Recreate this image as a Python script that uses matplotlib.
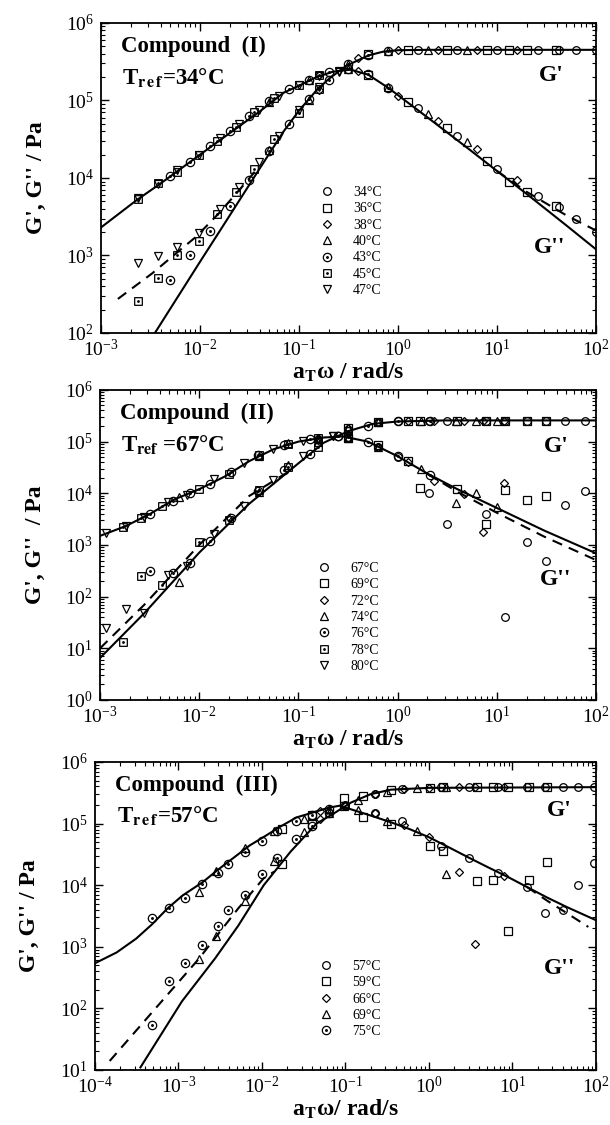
import numpy as np
import matplotlib
matplotlib.use("Agg")
import matplotlib.pyplot as plt
from matplotlib.path import Path
from matplotlib.lines import Line2D
from matplotlib.ticker import LogLocator, NullFormatter

plt.rcParams['font.family'] = ['Liberation Serif', 'DejaVu Serif']
plt.rcParams['mathtext.fontset'] = 'stix'

# ---------------- Compound (I), Tref = 34 C ----------------
c1_temps = ['34°C', '36°C', '38°C', '40°C', '43°C', '45°C', '47°C']
c1_w34 = [1.58, 3.98, 10, 25.7, 42.7, 63.1, 100]
c1_gp34 = [4.5e5, 4.5e5, 4.5e5, 4.5e5, 4.5e5, 4.5e5, 4.5e5]
c1_gpp34 = [7.9e4, 3.5e4, 1.3e4, 5.9e3, 4.2e3, 3.0e3, 2.0e3]
c1_w36 = [0.5, 1.26, 3.16, 7.9, 13.2, 20, 39.8]
c1_gp36 = [4.0e5, 4.5e5, 4.5e5, 4.5e5, 4.5e5, 4.5e5, 4.5e5]
c1_gpp36 = [2.1e5, 9.5e4, 4.4e4, 1.65e4, 8.9e3, 6.6e3, 4.4e3]
c1_w38 = [0.158, 0.398, 1.0, 2.51, 6.31, 15.8]
c1_gp38 = [1.35e5, 3.5e5, 4.45e5, 4.5e5, 4.5e5, 4.5e5]
c1_gpp38 = [2.1e5, 2.4e5, 1.15e5, 5.4e4, 2.4e4, 9.3e3]
c1_w40 = [0.05, 0.126, 0.316, 0.79, 2.0, 5.0]
c1_gp40 = [2.3e4, 1.0e5, 2.95e5, 4.4e5, 4.5e5, 4.5e5]
c1_gpp40 = [9.5e4, 1.85e5, 2.55e5, 1.5e5, 6.6e4, 2.9e4]
c1_w43 = [5.0e-3, 7.9e-3, 1.26e-2, 2.0e-2, 3.16e-2, 5.0e-2, 7.9e-2, 0.126, 0.2, 0.316, 0.5, 0.79]
c1_gp43 = [4.9e2, 1.0e3, 2.1e3, 4.4e3, 9.5e3, 2.2e4, 5.0e4, 1.05e5, 1.85e5, 2.95e5, 3.9e5, 4.4e5]
c1_gpp43 = [1.05e4, 1.6e4, 2.6e4, 4.0e4, 6.3e4, 9.8e4, 1.4e5, 1.85e5, 2.3e5, 2.55e5, 2.2e5, 1.45e5]
c1_w45 = [2.34e-3, 3.8e-3, 5.9e-3, 9.8e-3, 1.48e-2, 2.29e-2, 3.55e-2, 5.6e-2, 0.1, 0.158]
c1_gp45 = [2.6e2, 5.1e2, 1.0e3, 1.55e3, 3.4e3, 6.5e3, 1.3e4, 3.2e4, 6.9e4, 1.4e5]
c1_gpp45 = [5.4e3, 8.5e3, 1.2e4, 2.0e4, 3.0e4, 4.6e4, 7.1e4, 1.07e5, 1.6e5, 2.1e5]
c1_w47 = [2.34e-3, 3.8e-3, 5.9e-3, 9.8e-3, 1.58e-2, 2.5e-2, 3.98e-2, 6.3e-2, 0.1, 0.158, 0.251]
c1_gp47 = [8.1e2, 9.8e2, 1.3e3, 1.95e3, 4.0e3, 7.6e3, 1.6e4, 3.5e4, 7.6e4, 1.5e5, 2.4e5]
c1_gpp47 = [5.5e3, 8.3e3, 1.25e4, 2.0e4, 3.3e4, 5.0e4, 7.6e4, 1.15e5, 1.6e5, 2.05e5, 2.35e5]

c1_gpp_x = [1e-3, 2.3e-3, 4e-3, 1e-2, 2e-2, 4e-2, 7e-2, 0.1, 0.15, 0.22, 0.33, 0.5, 0.8, 1, 2, 5, 10, 20, 50, 100]
c1_gpp_fit = [2.3e3, 5.2e3, 8.5e3, 2.0e4, 3.8e4, 7.2e4, 1.26e5, 1.55e5, 2.0e5, 2.35e5, 2.5e5, 2.15e5, 1.45e5,
              1.17e5, 6.0e4, 2.45e4, 1.23e4, 6.2e3, 2.45e3, 1.2e3]
c1_gp_x = [3.5e-3, 1e-2, 2e-2, 4e-2, 7e-2, 0.1, 0.15, 0.2, 0.3, 0.5, 0.7, 1, 2, 10, 100]
c1_gp_fit = [1.0e2, 8.3e2, 3.3e3, 1.32e4, 4.0e4, 7.4e4, 1.35e5, 1.9e5, 2.8e5, 3.8e5, 4.25e5, 4.45e5, 4.5e5, 4.5e5, 4.5e5]
c1_gp_dash_x = [1.48e-3, 3.3e-3, 5.75e-3, 9.1e-3, 1.55e-2, 2.8e-2, 3.8e-2]
c1_gp_dash = [2.75e2, 5.9e2, 1.07e3, 1.74e3, 3.5e3, 8.3e3, 1.32e4]
c1_gpp_dash_x = [10, 20, 50, 100]
c1_gpp_dash = [1.23e4, 6.6e3, 3.3e3, 2.1e3]

# ---------------- Compound (II), Tref = 67 C ----------------
c2_temps = ['67°C', '69°C', '72°C', '74°C', '76°C', '78°C', '80°C']
c2_w67 = [0.63, 1.0, 2.05, 3.16, 7.8, 12.0, 20, 31.6, 49, 78]
c2_gp67 = [2.35e5, 2.5e5, 2.55e5, 2.55e5, 2.55e5, 2.55e5, 2.55e5, 2.55e5, 2.55e5, 2.55e5]
c2_gpp67 = [7.9e4, 5.0e4, 1.0e4, 2.6e3, 4.0e3, 41, 1.15e3, 4.8e2, 5.9e3, 1.1e4]
c2_w69 = [0.316, 0.63, 1.26, 1.7, 4.0, 7.8, 12.0, 20, 31.6]
c2_gp69 = [1.85e5, 2.35e5, 2.5e5, 2.55e5, 2.55e5, 2.55e5, 2.55e5, 2.55e5, 2.55e5]
c2_gpp69 = [1.2e5, 8.5e4, 4.2e4, 1.26e4, 1.2e4, 2.5e3, 1.15e4, 7.4e3, 8.9e3]
c2_w72 = [0.158, 0.316, 0.63, 1.26, 2.3, 4.7, 7.2, 11.7]
c2_gp72 = [1.07e5, 1.85e5, 2.35e5, 2.5e5, 2.55e5, 2.55e5, 2.55e5, 2.55e5]
c2_gpp72 = [1.2e5, 1.2e5, 7.9e4, 4.0e4, 1.7e4, 9.5e3, 1.8e3, 1.6e4]
c2_w74 = [6.3e-3, 4.0e-2, 7.9e-2, 0.158, 0.316, 0.63, 1.74, 3.9, 6.2, 10]
c2_gp74 = [1.95e2, 1.07e4, 3.5e4, 1.0e5, 1.8e5, 2.35e5, 2.55e5, 2.55e5, 2.55e5, 2.55e5]
c2_gpp74 = [8.5e3, 5.2e4, 9.3e4, 1.17e5, 1.2e5, 7.9e4, 3.0e4, 6.5e3, 1.0e4, 5.4e3]
c2_w76 = [3.2e-3, 5.4e-3, 8.1e-3, 1.29e-2, 2.1e-2, 3.9e-2, 7.2e-2, 0.13, 0.25, 0.5, 1.0, 2.1]
c2_gp76 = [3.15e2, 2.9e2, 4.5e2, 1.2e3, 3.3e3, 1.1e4, 2.8e4, 5.8e4, 1.3e5, 2.0e5, 2.45e5, 2.55e5]
c2_gpp76 = [3.9e3, 7.2e3, 1.0e4, 1.5e4, 2.6e4, 5.5e4, 8.5e4, 1.12e5, 1.26e5, 1.0e5, 5.2e4, 2.3e4]
c2_w78 = [1.7e-3, 2.6e-3, 4.2e-3, 1.0e-2, 2.0e-2, 4.0e-2, 7.9e-2, 0.158, 0.316]
c2_gp78 = [13, 2.5e2, 1.67e2, 1.15e3, 3.0e3, 1.15e4, 3.2e4, 8.0e4, 1.6e5]
c2_gpp78 = [2.2e3, 3.3e3, 5.6e3, 1.2e4, 2.4e4, 5.4e4, 9.1e4, 1.17e5, 1.23e5]
c2_w80 = [1.15e-3, 1.82e-3, 2.8e-3, 4.8e-3, 7.6e-3, 1.4e-2, 2.8e-2, 5.6e-2, 0.112, 0.224]
c2_gp80 = [25, 58, 48, 2.6e2, 4.0e2, 1.6e3, 5.6e3, 1.8e4, 5.2e4, 1.26e5]
c2_gpp80 = [1.7e3, 2.3e3, 3.5e3, 6.8e3, 9.3e3, 1.9e4, 3.8e4, 7.1e4, 1.05e5, 1.26e5]

c2_gpp_x = [1e-3, 1.8e-3, 3.2e-3, 5.6e-3, 1e-2, 1.8e-2, 3.2e-2, 5.6e-2, 0.1, 0.18, 0.28, 0.5, 1, 2, 4, 10, 30, 100]
c2_gpp_fit = [1.5e3, 2.3e3, 4.0e3, 7.6e3, 1.2e4, 2.1e4, 4.2e4, 7.1e4, 1.0e5, 1.2e5, 1.26e5, 1.0e5, 5.2e4,
              2.4e4, 1.2e4, 5.2e3, 1.9e3, 6.9e2]
c2_gpp_dash_x = [2, 4, 10, 30, 100]
c2_gpp_dash = [2.35e4, 1.07e4, 4.2e3, 1.45e3, 5.1e2]
c2_gp_x = [1e-3, 2.8e-3, 1e-2, 3.2e-2, 0.1, 0.18, 0.32, 0.56, 1, 3, 100]
c2_gp_fit = [6.5, 48, 7.1e2, 6.3e3, 3.8e4, 9.5e4, 1.6e5, 2.2e5, 2.45e5, 2.57e5, 2.57e5]
c2_gp_dash_x = [1e-3, 2.8e-3, 1e-2, 3.2e-2, 7.9e-2]
c2_gp_dash = [10, 70, 1.0e3, 8.9e3, 2.6e4]

# ---------------- Compound (III), Tref = 57 C ----------------
c3_temps = ['57°C', '59°C', '66°C', '69°C', '75°C']
c3_w57 = [0.1, 0.224, 0.48, 1.41, 3.0, 6.8, 15.1, 24.5, 39.8, 61.7, 95.5]
c3_gp57 = [2.0e5, 3.0e5, 3.6e5, 3.9e5, 3.9e5, 3.9e5, 3.9e5, 3.9e5, 3.9e5, 3.9e5, 3.9e5]
c3_gpp57 = [1.95e5, 1.5e5, 1.12e5, 4.4e4, 2.8e4, 1.6e4, 9.3e3, 3.6e3, 3.9e3, 1.0e4, 2.3e4]
c3_w59 = [1.74e-2, 3.98e-2, 9.5e-2, 0.162, 0.347, 1.02, 1.48, 3.8, 5.9, 8.9, 15.8, 25.7]
c3_gp59 = [2.2e4, 9.8e4, 2.6e5, 2.8e5, 3.5e5, 3.8e5, 3.9e5, 3.9e5, 3.9e5, 3.9e5, 3.9e5, 3.9e5]
c3_gpp59 = [8.3e4, 1.4e5, 1.95e5, 1.26e5, 9.8e4, 4.4e4, 3.6e4, 1.15e4, 1.2e4, 1.8e3, 1.2e4, 2.4e4]
c3_w66 = [5.0e-2, 0.1, 0.224, 0.5, 1.0, 2.27, 3.55, 7.9]
c3_gp66 = [1.2e5, 2.0e5, 3.0e5, 3.6e5, 3.8e5, 3.9e5, 3.9e5, 3.9e5]
c3_gpp66 = [1.6e5, 1.9e5, 1.5e5, 9.5e4, 6.0e4, 1.66e4, 1.12e3, 1.4e4]
c3_w69 = [1.78e-3, 2.8e-3, 6.3e-3, 1.41e-2, 3.16e-2, 6.3e-2, 0.141, 0.316, 0.71, 1.58]
c3_gp69 = [6.3e2, 1.5e3, 5.6e3, 2.5e4, 7.4e4, 1.5e5, 2.4e5, 3.3e5, 3.8e5, 3.9e5]
c3_gpp69 = [7.8e3, 1.7e4, 4.0e4, 7.6e4, 1.17e5, 1.74e5, 1.66e5, 1.1e5, 7.6e4, 1.5e4]
c3_w75 = [4.8e-4, 7.6e-4, 1.2e-3, 1.9e-3, 3.0e-3, 3.9e-3, 6.3e-3, 1.0e-2, 1.51e-2, 2.57e-2, 3.98e-2, 6.3e-2]
c3_gp75 = [54, 2.8e2, 5.4e2, 1.05e3, 2.2e3, 3.9e3, 6.8e3, 1.5e4, 2.8e4, 5.6e4, 9.3e4, 1.5e5]
c3_gpp75 = [2.9e3, 4.2e3, 6.3e3, 1.05e4, 1.6e4, 2.2e4, 3.4e4, 5.2e4, 7.6e4, 1.12e5, 1.38e5, 1.74e5]

c3_gpp_x = [1e-4, 1.82e-4, 3.1e-4, 4.8e-4, 7.4e-4, 1.12e-3, 1.95e-3, 3.0e-3, 4.6e-3, 7.1e-3, 1.1e-2, 1.7e-2,
            2.6e-2, 4.0e-2, 6.2e-2, 8.5e-2, 0.117, 0.2, 0.35, 0.59, 1, 1.74, 3.0, 5.1, 8.9, 15, 26, 45, 100]
c3_gpp_fit = [5.4e2, 8.1e2, 1.35e3, 2.3e3, 4.2e3, 6.8e3, 1.12e4, 1.8e4, 2.8e4, 4.4e4, 6.3e4, 9.1e4, 1.26e5,
              1.5e5, 1.8e5, 1.95e5, 1.7e5, 1.35e5, 1.05e5, 8.1e4, 6.0e4, 4.1e4, 2.8e4, 1.95e4, 1.35e4,
              9.3e3, 6.3e3, 4.4e3, 2.7e3]
c3_gpp_dash_x = [15, 26, 45, 81]
c3_gpp_dash = [9.3e3, 5.6e3, 3.5e3, 2.1e3]
c3_gp_x = [3.5e-4, 1.1e-3, 2.75e-3, 5.2e-3, 1.05e-2, 2.2e-2, 4.5e-2, 6.9e-2, 0.117, 0.2, 0.35, 1, 100]
c3_gp_fit = [11, 1.3e2, 6.5e2, 2.2e3, 1.0e4, 3.5e4, 1.0e5, 1.4e5, 2.2e5, 3.0e5, 3.55e5, 3.8e5, 3.9e5]
c3_gp_dash_x = [1.5e-4, 4.6e-4, 1.74e-3, 5.2e-3, 1.05e-2, 1.4e-2]
c3_gp_dash = [14, 80, 6.3e2, 4.2e3, 1.3e4, 1.66e4]

# ---------------- marker shapes ----------------
dot = Path.circle((0, 0), 0.2)
circ_dot = Path.make_compound_path(Path.unit_circle(), dot)
sq_path = Path([(-1, -1), (1, -1), (1, 1), (-1, 1), (-1, -1)],
               [Path.MOVETO, Path.LINETO, Path.LINETO, Path.LINETO, Path.CLOSEPOLY])
sq_dot = Path.make_compound_path(sq_path, dot)

mk_all = [('o', 5.5), ('s', 5.5), ('D', 4.0), ('^', 6.0), (circ_dot, 6.0), (sq_dot, 5.5), ('v', 6.0)]

fig = plt.figure(figsize=(6.1, 11.25), dpi=100)

panels = [
    dict(rect=[0.1656, 0.704, 0.8115, 0.2756], xlim=(1e-3, 1e2), ylim=(1e2, 1e6),
         temps=c1_temps, markers=mk_all,
         data=[(c1_w34, c1_gp34, c1_gpp34), (c1_w36, c1_gp36, c1_gpp36), (c1_w38, c1_gp38, c1_gpp38),
               (c1_w40, c1_gp40, c1_gpp40), (c1_w43, c1_gp43, c1_gpp43), (c1_w45, c1_gp45, c1_gpp45),
               (c1_w47, c1_gp47, c1_gpp47)],
         solid=[(c1_gpp_x, c1_gpp_fit), (c1_gp_x, c1_gp_fit)],
         dashed=[(c1_gp_dash_x, c1_gp_dash), (c1_gpp_dash_x, c1_gpp_dash)],
         title='Compound  (I)', tref=r'T$_{\mathbf{r\,e\,f}}$=34°C',
         gp_lab=(35, 2.1e5), gpp_lab=(34, 1.25e3),
         ylabel="G', G'' / Pa", xlabel=r'a$_{\mathbf{T}}$ω / rad/s',
         leg=(0.442, 0.474)),
    dict(rect=[0.164, 0.3778, 0.8131, 0.2756], xlim=(1e-3, 1e2), ylim=(1e0, 1e6),
         temps=c2_temps, markers=mk_all,
         data=[(c2_w67, c2_gp67, c2_gpp67), (c2_w69, c2_gp69, c2_gpp69), (c2_w72, c2_gp72, c2_gpp72),
               (c2_w74, c2_gp74, c2_gpp74), (c2_w76, c2_gp76, c2_gpp76), (c2_w78, c2_gp78, c2_gpp78),
               (c2_w80, c2_gp80, c2_gpp80)],
         solid=[(c2_gpp_x, c2_gpp_fit), (c2_gp_x, c2_gp_fit)],
         dashed=[(c2_gp_dash_x, c2_gp_dash), (c2_gpp_dash_x, c2_gpp_dash)],
         title='Compound  (II)', tref=r'T$_{\mathbf{ref}}$ =67°C',
         gp_lab=(40, 8e4), gpp_lab=(39, 2.1e2),
         ylabel="G', G''  / Pa", xlabel=r'a$_{\mathbf{T}}$ω / rad/s',
         leg=(0.4375, 0.445)),
    dict(rect=[0.1557, 0.0489, 0.8213, 0.2738], xlim=(1e-4, 1e2), ylim=(1e1, 1e6),
         temps=c3_temps, markers=mk_all[:5],
         data=[(c3_w57, c3_gp57, c3_gpp57), (c3_w59, c3_gp59, c3_gpp59), (c3_w66, c3_gp66, c3_gpp66),
               (c3_w69, c3_gp69, c3_gpp69), (c3_w75, c3_gp75, c3_gpp75)],
         solid=[(c3_gpp_x, c3_gpp_fit), (c3_gp_x, c3_gp_fit)],
         dashed=[(c3_gp_dash_x, c3_gp_dash), (c3_gpp_dash_x, c3_gpp_dash)],
         title='Compound  (III)', tref=r'T$_{\mathbf{r\,e\,f}}$=57°C',
         gp_lab=(36, 1.6e5), gpp_lab=(37, 4.5e2),
         ylabel="G', G'' / Pa", xlabel=r'a$_{\mathbf{T}}$ω/ rad/s',
         leg=(0.447, 0.357)),
]

for p in panels:
    ax = fig.add_axes(p['rect'])
    ax.set_xscale('log')
    ax.set_yscale('log')
    ax.set_xlim(*p['xlim'])
    ax.set_ylim(*p['ylim'])

    handles = []
    for (w, gp, gpp), (m, ms), lab in zip(p['data'], p['markers'], p['temps']):
        kw = dict(ls='none', marker=m, ms=ms, mfc='none', mec='k', mew=0.9)
        ax.plot(w, gp, **kw)
        ax.plot(w, gpp, **kw)
        handles.append(Line2D([], [], label=lab, **kw))

    for x, y in p['solid']:
        ax.plot(x, y, color='k', lw=1.5)
    for x, y in p['dashed']:
        ax.plot(x, y, color='k', lw=1.5, ls=(0, (5, 3.5)))

    ax.legend(handles=handles, loc='upper left', bbox_to_anchor=p['leg'], frameon=False,
              fontsize=10, handlelength=1.0, handletextpad=1.4, labelspacing=0.24,
              borderpad=0, borderaxespad=0)

    ax.text(0.04, 0.923, p['title'], transform=ax.transAxes, fontsize=16.5,
            fontweight='bold', va='center', ha='left')
    ax.text(0.043, 0.825, p['tref'], transform=ax.transAxes, fontsize=16.5,
            fontweight='bold', va='center', ha='left')
    ax.text(*p['gp_lab'], "G'", fontsize=17, fontweight='bold', ha='center', va='center')
    ax.text(*p['gpp_lab'], "G''", fontsize=17, fontweight='bold', ha='center', va='center')

    ax.set_ylabel(p['ylabel'], fontsize=17, fontweight='bold')
    ax.yaxis.set_label_coords(-0.11, 0.5)
    ax.set_xlabel(p['xlabel'], fontsize=17, fontweight='bold', labelpad=1)

    ax.xaxis.set_major_locator(LogLocator(base=10, numticks=15))
    ax.yaxis.set_major_locator(LogLocator(base=10, numticks=15))
    ax.xaxis.set_minor_locator(LogLocator(base=10, subs=np.arange(2, 10), numticks=15))
    ax.yaxis.set_minor_locator(LogLocator(base=10, subs=np.arange(2, 10), numticks=15))
    ax.xaxis.set_minor_formatter(NullFormatter())
    ax.yaxis.set_minor_formatter(NullFormatter())
    ax.tick_params(which='both', direction='in', top=True, right=True, labelsize=14)
    ax.tick_params(which='major', length=6, width=1.0)
    ax.tick_params(axis='x', which='major', pad=4)
    ax.tick_params(axis='y', which='major', pad=5)
    ax.tick_params(which='minor', length=3, width=0.8)
    for s in ax.spines.values():
        s.set_linewidth(1.3)

fig.savefig('out.png', dpi=100)
